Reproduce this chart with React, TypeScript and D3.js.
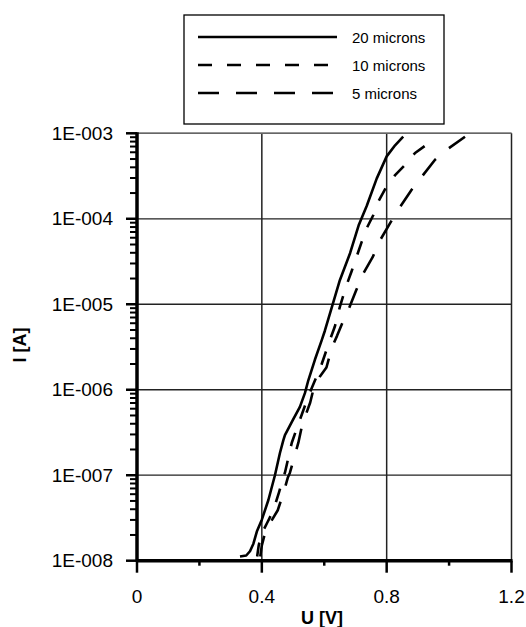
import React from "react";
import * as d3 from "d3";

// ---- Data ----
const xTicks = [0, 0.4, 0.8, 1.2];
const xMinorTicks = [0.2, 0.6, 1.0];
const yTickExps = [-8, -7, -6, -5, -4, -3];

const seriesNames = ["20 microns", "10 microns", "5 microns"];

const u20 = [0.330, 0.350, 0.362, 0.373, 0.384, 0.400, 0.421, 0.442, 0.458, 0.469, 0.474, 0.500, 0.522, 0.538, 0.549, 0.570, 0.592, 0.602, 0.627, 0.650, 0.683, 0.710, 0.736, 0.768, 0.800, 0.827, 0.853];
const i20 = [1.12e-8, 1.15e-8, 1.29e-8, 1.58e-8, 2.19e-8, 3.02e-8, 5.13e-8, 1.0e-7, 1.82e-7, 2.57e-7, 2.95e-7, 4.47e-7, 6.31e-7, 9.12e-7, 1.29e-6, 2.24e-6, 3.80e-6, 4.90e-6, 1.0e-5, 1.91e-5, 3.98e-5, 8.32e-5, 1.41e-4, 2.95e-4, 5.37e-4, 7.24e-4, 9.12e-4];

const u10 = [0.385, 0.390, 0.400, 0.418, 0.437, 0.455, 0.469, 0.474, 0.496, 0.515, 0.545, 0.560, 0.575, 0.590, 0.616, 0.634, 0.650, 0.670, 0.688, 0.704, 0.720, 0.736, 0.757, 0.773, 0.800, 0.827, 0.864, 0.891, 0.933, 0.945];
const i10 = [1.12e-8, 1.51e-8, 2.09e-8, 2.82e-8, 3.89e-8, 6.31e-8, 9.33e-8, 1.07e-7, 2.40e-7, 3.80e-7, 7.59e-7, 1.05e-6, 1.41e-6, 1.91e-6, 3.63e-6, 5.50e-6, 9.33e-6, 1.62e-5, 2.45e-5, 3.63e-5, 5.37e-5, 7.76e-5, 1.10e-4, 1.58e-4, 2.40e-4, 3.24e-4, 4.47e-4, 5.89e-4, 7.59e-4, 7.94e-4];

const u5 = [0.395, 0.400, 0.410, 0.428, 0.451, 0.470, 0.483, 0.490, 0.517, 0.530, 0.555, 0.565, 0.585, 0.607, 0.625, 0.641, 0.660, 0.680, 0.702, 0.725, 0.755, 0.779, 0.811, 0.843, 0.880, 0.912, 0.955, 0.997, 1.051];
const i5 = [1.12e-8, 1.51e-8, 2.09e-8, 2.82e-8, 3.89e-8, 6.31e-8, 9.33e-8, 1.07e-7, 2.40e-7, 3.98e-7, 7.08e-7, 1.0e-6, 1.41e-6, 1.82e-6, 3.16e-6, 4.27e-6, 6.31e-6, 9.12e-6, 1.45e-5, 2.29e-5, 3.55e-5, 5.62e-5, 8.91e-5, 1.38e-4, 2.19e-4, 3.09e-4, 4.90e-4, 6.61e-4, 9.12e-4];

const W = 526;
const H = 627;
const FONT = "'Liberation Sans', Arial, sans-serif";

export default function App() {
  const x = d3.scaleLinear().domain([0, 1.2]).range([137, 511.5]);
  const y = d3.scaleLog().domain([1e-8, 1e-3]).range([560.7, 133.3]);

  const series = [
    { name: seriesNames[0], u: u20, i: i20, dash: undefined },
    { name: seriesNames[1], u: u10, i: i10, dash: "14,15" },
    { name: seriesNames[2], u: u5, i: i5, dash: "21,17" },
  ];

  const line = d3
    .line<[number, number]>()
    .x((d) => x(d[0]))
    .y((d) => y(d[1]));

  const majors = yTickExps.map((e) => Math.pow(10, e));
  const minors: number[] = [];
  for (let e = -8; e < -3; e++) {
    for (let k = 2; k <= 9; k++) minors.push(k * Math.pow(10, e));
  }
  const fmt = (e: number) => `1E-${String(-e).padStart(3, "0")}`;

  const [x0, x1] = x.range();
  const [yb, yt] = y.range();

  const legendLines = [37, 65, 93];

  return (
    <svg
      width={W}
      height={H}
      style={{ position: "absolute", left: 0, top: 0, background: "#fff" }}
      fontFamily={FONT}
    >
      <rect x={0} y={0} width={W} height={H} fill="#fff" />
      {/* grid */}
      {majors.slice(1).map((v) => (
        <line key={"hg" + v} x1={x0} x2={x1} y1={y(v)} y2={y(v)} stroke="#222" strokeWidth={1.3} />
      ))}
      {xTicks.slice(1).map((v) => (
        <line key={"vg" + v} x1={x(v)} x2={x(v)} y1={yt} y2={yb} stroke="#222" strokeWidth={1.5} />
      ))}
      <line x1={x0} x2={x1} y1={yt} y2={yt} stroke="#666" strokeWidth={1.6} />

      {/* curves */}
      {series.map((s) => (
        <path
          key={s.name}
          d={line(s.u.map((u, k) => [u, s.i[k]] as [number, number])) || ""}
          fill="none"
          stroke="#000"
          strokeWidth={2.6}
          strokeDasharray={s.dash}
          strokeLinejoin="round"
        />
      ))}

      {/* y axis */}
      <line x1={x0} x2={x0} y1={yt - 1} y2={yb + 1} stroke="#000" strokeWidth={3.5} />
      {minors.map((v) => (
        <line key={"ym" + v} x1={x0 - 7} x2={x0} y1={y(v)} y2={y(v)} stroke="#000" strokeWidth={2} />
      ))}
      {majors.map((v, k) => (
        <g key={"yM" + v}>
          <line x1={x0 - 11} x2={x0} y1={y(v)} y2={y(v)} stroke="#000" strokeWidth={2.5} />
          <text
            x={113}
            y={y(v)}
            textAnchor="end"
            dominantBaseline="central"
            fontSize={19}
            fill="#000"
          >
            {fmt(yTickExps[k])}
          </text>
        </g>
      ))}

      {/* x axis */}
      <line x1={x0 - 1} x2={x1 + 1} y1={yb} y2={yb} stroke="#000" strokeWidth={3.5} />
      {xMinorTicks.map((v) => (
        <line key={"xm" + v} x1={x(v)} x2={x(v)} y1={yb} y2={yb + 5} stroke="#000" strokeWidth={2.5} />
      ))}
      {xTicks.map((v) => (
        <g key={"xM" + v}>
          <line x1={x(v)} x2={x(v)} y1={yb} y2={yb + 12} stroke="#000" strokeWidth={2.5} />
          <text x={x(v)} y={596} textAnchor="middle" dominantBaseline="central" fontSize={19} fill="#000">
            {String(v)}
          </text>
        </g>
      ))}

      {/* axis titles */}
      <text x={322} y={618} textAnchor="middle" dominantBaseline="central" fontSize={18} fontWeight="bold">
        U [V]
      </text>
      <text
        transform={`translate(20,345) rotate(-90)`}
        textAnchor="middle"
        dominantBaseline="central"
        fontSize={18}
        fontWeight="bold"
      >
        I [A]
      </text>

      {/* legend */}
      <rect x={184} y={15} width={260} height={109} fill="#fff" stroke="#000" strokeWidth={1.3} />
      {series.map((s, k) => (
        <g key={"lg" + s.name}>
          <line
            x1={198}
            x2={337}
            y1={legendLines[k]}
            y2={legendLines[k]}
            stroke="#000"
            strokeWidth={2.6}
            strokeDasharray={s.dash}
          />
          <text x={352} y={legendLines[k]} dominantBaseline="central" fontSize={15}>
            {s.name}
          </text>
        </g>
      ))}
    </svg>
  );
}
